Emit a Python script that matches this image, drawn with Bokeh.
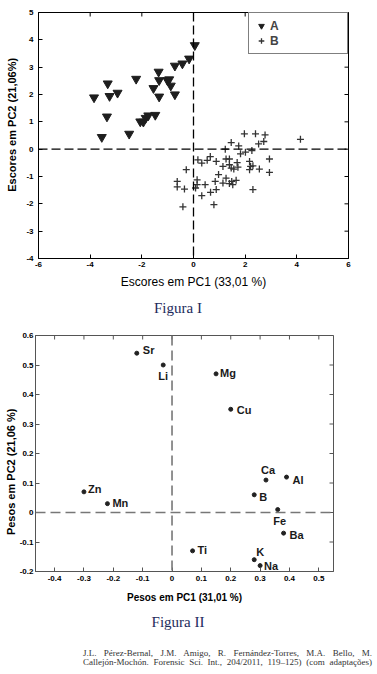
import math
from bokeh.plotting import figure
from bokeh.models import (Range1d, FixedTicker, Span, Legend, LegendItem,
                          ColumnDataSource, Div)
from bokeh.embed import file_html
from bokeh.resources import INLINE
from bokeh.core.properties import value

# ---------------- Figure I : scores ----------------
a_pc1 = [-3.85, -3.55, -3.35, -3.32, -3.25, -2.94, -2.49, -2.22, -2.06, -1.94, -1.85, -1.75,
         -1.48, -1.55, -1.35, -1.33, -1.33, -1.01, -0.94, -0.88, -0.72, -0.72, -0.43, -0.17, 0.05]
a_pc2 = [1.89, 0.44, 1.19, 2.40, 1.94, 2.06, 0.56, 2.57, 1.01, 1.00, 1.14, 1.23,
         1.25, 2.23, 2.83, 2.52, 1.92, 2.52, 2.55, 2.32, 2.00, 3.05, 3.13, 3.31, 3.80]

b_pc1 = [1.97, 2.40, 2.77, 1.46, 1.75, 2.52, 2.72, 4.14, 1.23, 1.82, 2.01, 2.26,
         0.17, 0.32, 0.53, 0.65, 0.88, 1.26, 1.39, 1.69, 1.14, 1.39, 1.46, 1.56,
         1.72, 2.17, 2.21, 2.30, 2.17, 2.55, 2.94, 2.94, -0.28, -0.63, -0.63, -0.35,
         0.14, 0.14, 0.08, 0.45, 0.66, 0.32, 0.84, 0.88, 0.97, 1.26, 1.14, 1.39,
         1.65, 1.48, 0.79, -0.41, 2.30, 1.52]
b_pc2 = [0.56, 0.56, 0.52, 0.24, 0.12, 0.19, 0.28, 0.36, 0.00, -0.17, -0.11, -0.05,
         -0.39, -0.51, -0.41, -0.27, -0.45, -0.36, -0.36, -0.49, -0.63, -0.57, -0.69, -0.73,
         -0.66, -0.45, -0.63, -0.61, -0.75, -0.73, -0.36, -0.85, -0.75, -1.18, -1.38, -1.46,
         -1.12, -1.30, -1.42, -1.30, -1.58, -1.70, -1.18, -1.48, -0.93, -1.06, -1.24, -1.26,
         -1.14, -1.18, -2.03, -2.11, -1.48, -1.30]

fig1_xrange = (-6, 6)
fig1_yrange = (-4, 5)
fig1_xticks = [-6, -4, -2, 0, 2, 4, 6]
fig1_xlabels = ["-6", "-4", "-2", "0", "2", "4", "6"]
fig1_yticks = [-4, -3, -2, -1, 0, 1, 2, 3, 4, 5]
fig1_ylabels = ["-4", "-3", "-2", "-1", "0", "1", "2", "3", "4", "5"]
fig1_xtitle = "Escores em PC1 (33,01 %)"
fig1_ytitle = "Escores em PC2 (21,06%)"
series_names = ["A", "B"]

# ---------------- Figure II : loadings ----------------
elements = ["Sr", "Li", "Mg", "Cu", "Ca", "Al", "Zn", "Mn", "B", "Fe", "Ba", "Ti", "K", "Na"]
load_pc1 = [-0.12, -0.03, 0.15, 0.20, 0.32, 0.39, -0.30, -0.22, 0.28, 0.36, 0.38, 0.07, 0.28, 0.30]
load_pc2 = [0.54, 0.50, 0.47, 0.35, 0.11, 0.12, 0.07, 0.03, 0.06, 0.01, -0.07, -0.13, -0.16, -0.18]

fig2_xrange = (-0.465, 0.55)
fig2_yrange = (-0.2, 0.6)
fig2_xticks = [-0.4, -0.3, -0.2, -0.1, 0, 0.1, 0.2, 0.3, 0.4, 0.5]
fig2_xlabels = ["-0.4", "-0.3", "-0.2", "-0.1", "0", "0.1", "0.2", "0.3", "0.4", "0.5"]
fig2_yticks = [-0.2, -0.1, 0, 0.1, 0.2, 0.3, 0.4, 0.5, 0.6]
fig2_ylabels = ["-0.2", "-0.1", "0", "0.1", "0.2", "0.3", "0.4", "0.5", "0.6"]
fig2_xtitle = "Pesos em PC1 (31,01 %)"
fig2_ytitle = "Pesos em PC2 (21,06 %)"

caption1 = "Figura I"
caption2 = "Figura II"
cite_line1 = "J.L. Pérez-Bernal, J.M. Amigo, R. Fernández-Torres, M.A. Bello, M."
cite_line2 = "Callejón-Mochón. Forensic Sci. Int., 204/2011, 119–125) (com adaptações)"

# label placement styles (screen px) for the element names
lab_align = ["left", "center", "left", "left", "center", "left", "left", "left", "left", "center", "left", "left", "left", "left"]
lab_base = ["middle", "top", "middle", "middle", "bottom", "middle", "middle", "middle", "middle", "top", "middle", "middle", "bottom", "middle"]
lab_dx = [6, 0, 4, 6, 2, 6, 4, 5, 5, 2, 6, 5, 2, 4]
lab_dy = [-3, 5, -1, 1, -4, 3, -3, -1, 2, 5, 2, -1, -2, 0]

SANS = "Liberation Sans"
SERIF = "Liberation Serif"
NB = "\u00a0"  # non-breaking spaces used to shift the rotated y titles along the axis


def make_plot(height, xr, yr, xticks, xlabels, yticks, ylabels, color, borders, xstand, ystand):
    p = figure(width=377, height=height, output_backend="svg", toolbar_location=None,
               x_range=Range1d(*xr), y_range=Range1d(*yr),
               min_border_left=borders[0], min_border_right=borders[1],
               min_border_top=borders[2], min_border_bottom=borders[3])
    p.background_fill_color = "white"
    p.border_fill_color = "white"
    p.outline_line_color = color
    p.grid.visible = False
    xa = p.below[0]
    ya = p.left[0]
    xa.ticker = FixedTicker(ticks=xticks)
    ya.ticker = FixedTicker(ticks=yticks)
    xa.major_label_overrides = dict(zip(xticks, xlabels))
    ya.major_label_overrides = dict(zip(yticks, ylabels))
    for ax in (xa, ya):
        ax.major_tick_in = 4
        ax.major_tick_out = 0
        ax.minor_tick_line_color = None
        ax.major_tick_line_color = color
        ax.axis_line_color = color
        ax.major_label_text_font = SANS
        ax.major_label_text_font_style = "bold"
        ax.major_label_text_font_size = "8px"
        ax.major_label_text_color = "black"
        ax.axis_label_text_font = SANS
        ax.axis_label_text_color = "black"
    xa.major_label_standoff = xstand
    ya.major_label_standoff = ystand
    # inward ticks on the top and right edges of the frame
    p.scatter(xticks, [yr[1]] * len(xticks), marker="dash", angle=math.pi / 2, size=8,
              line_color=color, line_width=1)
    p.scatter([xr[1]] * len(yticks), yticks, marker="dash", size=8,
              line_color=color, line_width=1)
    return p, xa, ya


# ---------- plot 1 ----------
p1, x1, y1 = make_plot(292, fig1_xrange, fig1_yrange, fig1_xticks, fig1_xlabels,
                       fig1_yticks, fig1_ylabels, "black", (38, 29, 12, 34), 3, 5)
x1.axis_label = fig1_xtitle
x1.axis_label_text_font_size = "12px"
x1.axis_label_text_font_style = "normal"
x1.axis_label_standoff = 5
y1.axis_label = NB * 7 + fig1_ytitle
y1.axis_label_text_font_size = "11px"
y1.axis_label_text_font_style = "bold"
y1.axis_label_standoff = 5

p1.add_layout(Span(location=0, dimension="height", line_color="black", line_width=1.3, line_dash="9 4"))
p1.add_layout(Span(location=0, dimension="width", line_color="black", line_width=1.3, line_dash="9 4"))

ra = p1.scatter(a_pc1, a_pc2, marker="inverted_triangle", size=9, fill_color="#1e1e1e",
                line_color="#1e1e1e")
rb = p1.scatter(b_pc1, b_pc2, marker="cross", size=7, line_color="#333333", line_width=1.3)

legend = Legend(items=[LegendItem(label=series_names[0], renderers=[ra]),
                       LegendItem(label=series_names[1], renderers=[rb])],
                location="top_right", margin=0, padding=5, spacing=0,
                glyph_width=14, glyph_height=15, label_height=15, label_width=72,
                label_standoff=2, label_text_font=SANS, label_text_font_style="bold",
                label_text_font_size="12px", border_line_color="black", border_line_width=1,
                background_fill_color="white", background_fill_alpha=1)
p1.add_layout(legend)

# ---------- plot 2 ----------
p2, x2, y2 = make_plot(285, fig2_xrange, fig2_yrange, fig2_xticks, fig2_xlabels,
                       fig2_yticks, fig2_ylabels, "#555555", (35, 44, 13, 36), 4, 2)
x2.axis_label = fig2_xtitle
x2.axis_label_text_font_size = "10px"
x2.axis_label_text_font_style = "bold"
x2.axis_label_standoff = 8
y2.axis_label = fig2_ytitle + NB * 12
y2.axis_label_text_font_size = "11px"
y2.axis_label_text_font_style = "bold"
y2.axis_label_standoff = 0

p2.add_layout(Span(location=0, dimension="height", line_color="#777777", line_width=1.6, line_dash="10 5"))
p2.add_layout(Span(location=0, dimension="width", line_color="#777777", line_width=1.6, line_dash="10 5"))

src = ColumnDataSource(dict(x=load_pc1, y=load_pc2, t=elements, al=lab_align, bl=lab_base,
                            dx=lab_dx, dy=lab_dy))
p2.scatter("x", "y", source=src, marker="circle", size=4, fill_color="#222222", line_color="#222222")
p2.text("x", "y", text="t", source=src, x_offset="dx", y_offset="dy", text_align="al",
        text_baseline="bl", text_font=value(SANS), text_font_style="bold",
        text_font_size="11px", text_color="#1a1a1a")

# ---------- captions ----------
cap_style = ("font-family:'Liberation Serif';font-size:15px;line-height:15px;color:#1d2b5c;"
             "width:356px;text-align:center;margin:0;")
div1 = Div(text=f'<div style="{cap_style}padding-top:9px;">{caption1}</div>',
           width=377, height=30, margin=0)
div2 = Div(text=f'<div style="{cap_style}padding-top:8px;">{caption2}</div>',
           width=377, height=30, margin=0)
cite = Div(text=('<div style="font-family:\'Liberation Serif\';font-size:9px;line-height:9px;'
                 'color:#333333;margin:0 0 0 83px;padding-top:12px;width:289px;'
                 'text-align:justify;text-align-last:justify;white-space:nowrap;">'
                 f'{cite_line1}<br>{cite_line2}</div>'),
           width=377, height=37, margin=0)

open("out.html", "w").write(file_html([p1, div1, p2, div2, cite], INLINE))
